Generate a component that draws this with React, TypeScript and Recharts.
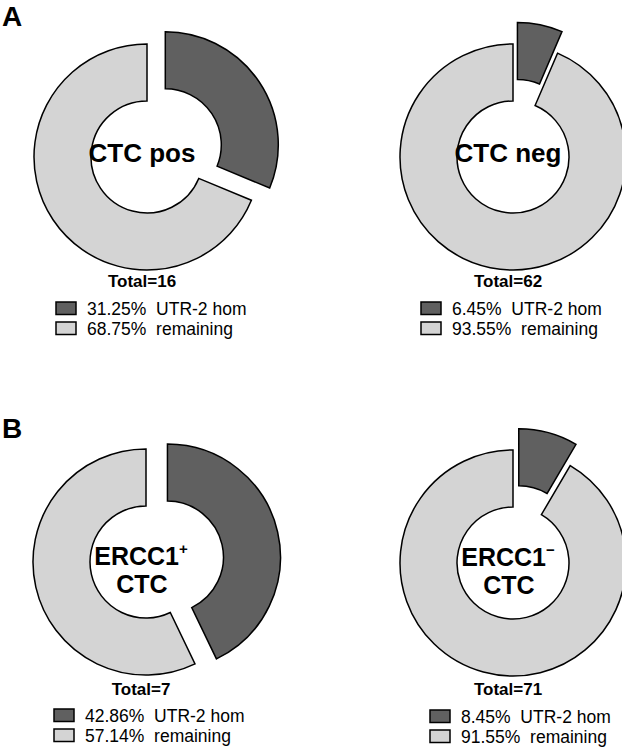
import { PieChart, Pie, Cell } from 'recharts';

// values
const panels = ['CTC pos', 'CTC neg', 'ERCC1+ CTC', 'ERCC1- CTC'];
const homPct = [31.25, 6.45, 42.86, 8.45];
const remainingPct = [68.75, 93.55, 57.14, 91.55];
const totals = [16, 62, 7, 71];
const seriesNames = ['UTR-2 hom', 'remaining'];

const DARK = '#606060';
const LIGHT = '#d4d4d4';
const FONT = '"Liberation Sans", Arial, Helvetica, sans-serif';

// layout per panel (pixels)
const centers = [
    { x: 142, y: 152 },
    { x: 508, y: 152 },
    { x: 141, y: 557 },
    { x: 508, y: 558 },
];
const legendX = [56, 421, 54, 430];
const legendY = [302, 302, 709, 710];
const totalY = [287, 287, 695, 695];
const INNER = 56;
const OUTER = 113;
const EXPLODE = 22;

function LegendRow({ x, y, fill, text }: { x: number; y: number; fill: string; text: string }) {
    return (
        <g>
            <rect x={x} y={y} width={20} height={12.5} fill={fill} stroke="#000" strokeWidth={1.5} />
            <text x={x + 31} y={y + 13} fontSize={17.5} fontFamily={FONT} fill="#000" style={{ whiteSpace: 'pre' }}>
                {text}
            </text>
        </g>
    );
}

function CenterLabel({ i }: { i: number }) {
    const c = centers[i];
    if (i < 2) {
        return (
            <text x={c.x} y={c.y + 10} textAnchor="middle" fontSize={26} fontWeight="bold" fontFamily={FONT}>
                {panels[i]}
            </text>
        );
    }
    const [head, tail] = panels[i].split(' ');
    const base = head.slice(0, -1);
    const sup = head.slice(-1) === '-' ? '\u2212' : head.slice(-1);
    return (
        <g fontFamily={FONT} fontWeight="bold" textAnchor="middle">
            <text x={c.x} y={c.y + 8} fontSize={25}>
                {base}
                <tspan fontSize={15} dy={-11}>{sup}</tspan>
            </text>
            <text x={c.x + 1} y={c.y + 36} fontSize={25}>{tail}</text>
        </g>
    );
}

export default function App() {
    const rows = panels.map((p, i) => {
        const data = [
            { name: seriesNames[0], value: homPct[i] },
            { name: seriesNames[1], value: remainingPct[i] },
        ];
        const sum = homPct[i] + remainingPct[i];
        const mid = (homPct[i] / sum) * Math.PI; // half of the slice angle, radians from top
        return {
            data,
            dx: EXPLODE * Math.sin(mid),
            dy: -EXPLODE * Math.cos(mid),
        };
    });

    return (
        <div style={{ position: 'absolute', left: 0, top: 0, width: 622, height: 747, background: '#fff' }}>
            <PieChart width={622} height={747}>
                {rows.map((r, i) => (
                    <Pie
                        key={`base-${i}`}
                        data={r.data}
                        dataKey="value"
                        nameKey="name"
                        cx={centers[i].x}
                        cy={centers[i].y}
                        innerRadius={INNER}
                        outerRadius={OUTER}
                        startAngle={90}
                        endAngle={-270}
                        isAnimationActive={false}
                    >
                        <Cell fill="none" stroke="none" />
                        <Cell fill={LIGHT} stroke="#000" strokeWidth={1.5} />
                    </Pie>
                ))}
                {rows.map((r, i) => (
                    <Pie
                        key={`explode-${i}`}
                        data={r.data}
                        dataKey="value"
                        nameKey="name"
                        cx={centers[i].x + r.dx}
                        cy={centers[i].y + r.dy}
                        innerRadius={INNER}
                        outerRadius={OUTER}
                        startAngle={90}
                        endAngle={-270}
                        isAnimationActive={false}
                    >
                        <Cell fill={DARK} stroke="#000" strokeWidth={1.5} />
                        <Cell fill="none" stroke="none" />
                    </Pie>
                ))}
            </PieChart>

            {/* texts */}
            <svg width={622} height={747} style={{ position: 'absolute', left: 0, top: 0, pointerEvents: 'none' }}>
                <text x={2} y={26} fontSize={28} fontWeight="bold" fontFamily={FONT}>A</text>
                <text x={2} y={438} fontSize={28} fontWeight="bold" fontFamily={FONT}>B</text>
                {panels.map((p, i) => (
                    <g key={p}>
                        <CenterLabel i={i} />
                        <text
                            x={centers[i].x}
                            y={totalY[i]}
                            textAnchor="middle"
                            fontSize={17}
                            fontWeight="bold"
                            fontFamily={FONT}
                        >
                            {`Total=${totals[i]}`}
                        </text>
                        <LegendRow x={legendX[i]} y={legendY[i]} fill={DARK} text={`${homPct[i].toFixed(2)}%  ${seriesNames[0]}`} />
                        <LegendRow x={legendX[i]} y={legendY[i] + 20} fill={LIGHT} text={`${remainingPct[i].toFixed(2)}%  ${seriesNames[1]}`} />
                    </g>
                ))}
            </svg>
        </div>
    );
}
